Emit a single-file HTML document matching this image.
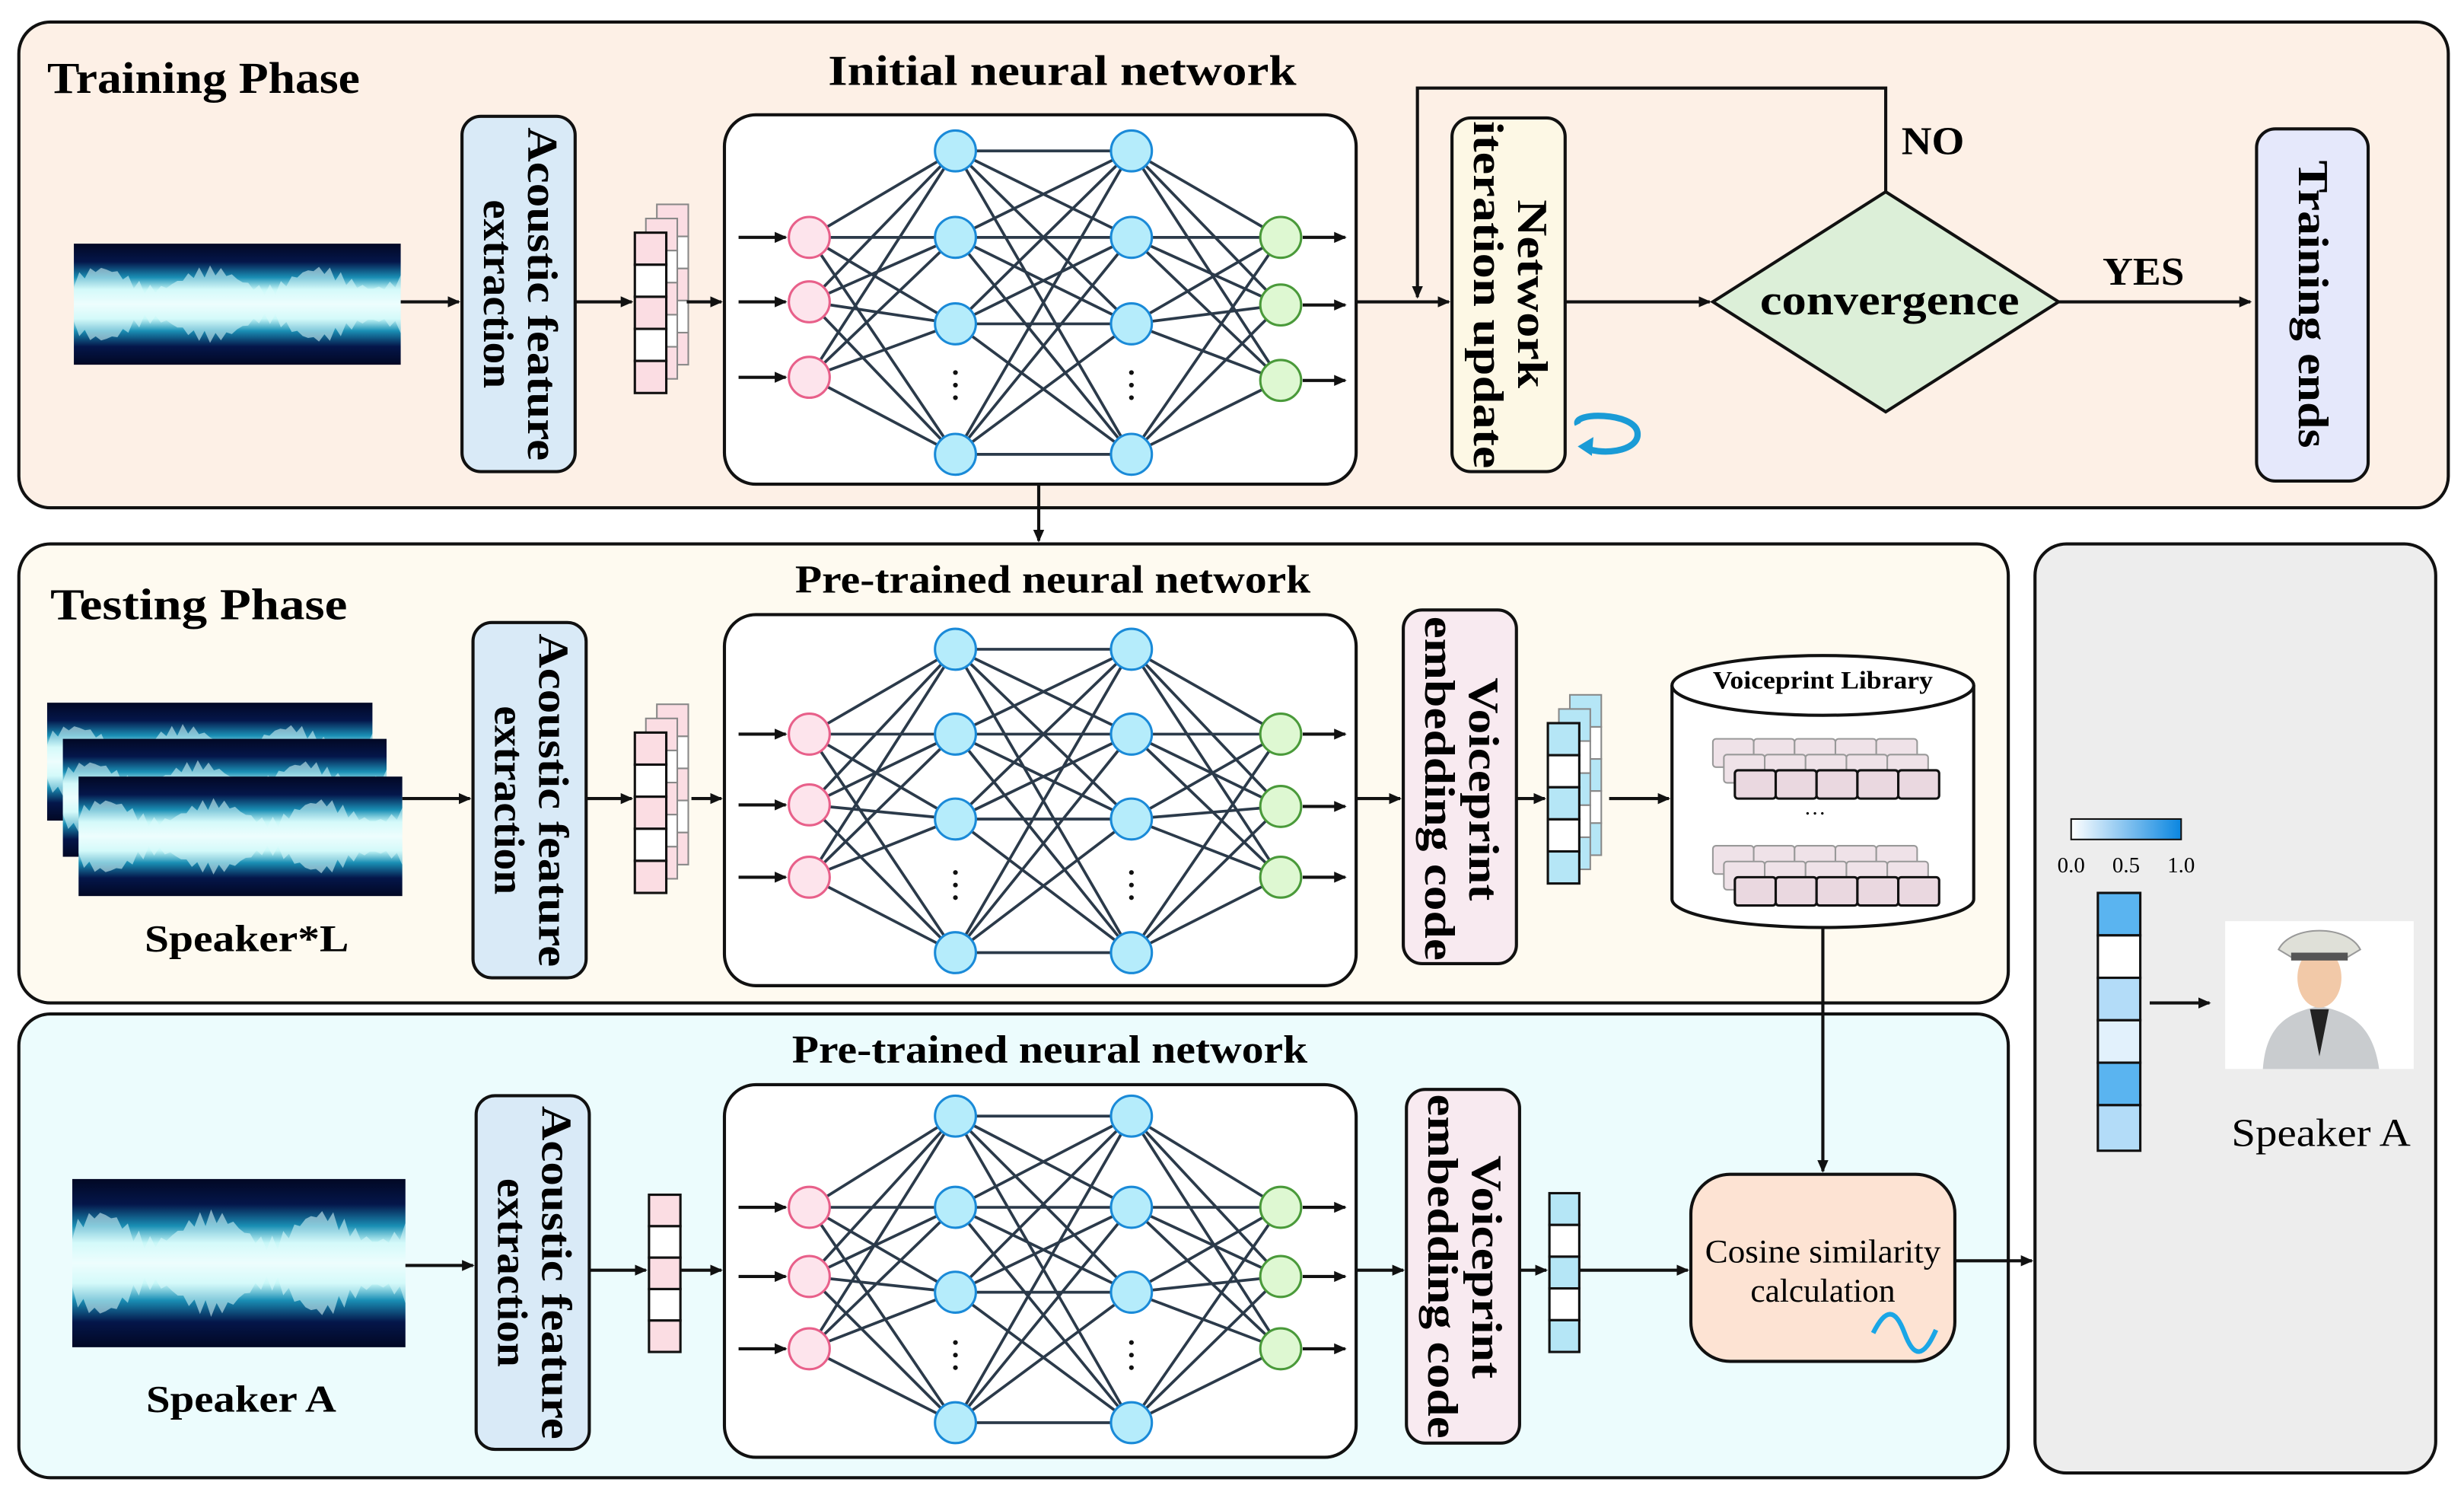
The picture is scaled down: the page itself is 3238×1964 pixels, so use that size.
<!DOCTYPE html>
<html><head><meta charset="utf-8"><style>
html,body{margin:0;padding:0;background:#fff}
svg{display:block}
text{font-family:"Liberation Serif",serif}
.b{font-weight:bold}
</style></head><body>
<svg id="s" width="3238" height="1964" viewBox="0 0 1568 951" preserveAspectRatio="none" xmlns="http://www.w3.org/2000/svg">
<defs>
<marker id="ar" markerWidth="8" markerHeight="8" refX="7" refY="4" orient="auto" markerUnits="userSpaceOnUse"><path d="M0,0.5 L8,4 L0,7.5 Z" fill="#111"/></marker>
<linearGradient id="wv" x1="0" y1="0" x2="0" y2="1">
<stop offset="0" stop-color="#020824"/><stop offset="0.15" stop-color="#04164a"/><stop offset="0.28" stop-color="#1a8fb5"/><stop offset="0.38" stop-color="#c8f8f8"/><stop offset="0.5" stop-color="#ffffff"/><stop offset="0.62" stop-color="#c8f8f8"/><stop offset="0.72" stop-color="#1a8fb5"/><stop offset="0.85" stop-color="#04164a"/><stop offset="1" stop-color="#020824"/></linearGradient>
<linearGradient id="cb" x1="0" y1="0" x2="1" y2="0"><stop offset="0" stop-color="#ffffff"/><stop offset="1" stop-color="#0a86e0"/></linearGradient>
</defs>
<rect x="12" y="14" width="1546" height="309" rx="20" fill="#fdf0e6" stroke="#111" stroke-width="2"/>
<rect x="12" y="346" width="1266" height="292" rx="20" fill="#fefaf0" stroke="#111" stroke-width="2"/>
<rect x="12" y="645" width="1266" height="295" rx="20" fill="#ecfcfd" stroke="#111" stroke-width="2"/>
<rect x="1295" y="346" width="255" height="591" rx="20" fill="#ededed" stroke="#111" stroke-width="2"/>
<text x="30" y="59" class="b" font-size="28" textLength="199" lengthAdjust="spacingAndGlyphs">Training Phase</text>
<text x="32" y="394" class="b" font-size="28" textLength="189" lengthAdjust="spacingAndGlyphs">Testing Phase</text>
<text x="527" y="54" class="b" font-size="27" textLength="298" lengthAdjust="spacingAndGlyphs">Initial neural network</text>
<text x="506" y="377" class="b" font-size="25" textLength="328" lengthAdjust="spacingAndGlyphs">Pre-trained neural network</text>
<text x="504" y="676" class="b" font-size="25" textLength="328" lengthAdjust="spacingAndGlyphs">Pre-trained neural network</text>
<g id="dyn"></g>
<rect x="924" y="75" width="72" height="225" rx="12" fill="#fdf8e5" stroke="#111" stroke-width="2"/>
<g transform="translate(960,187) rotate(90)"><text x="-60" y="-6" class="b" font-size="27" textLength="120" lengthAdjust="spacingAndGlyphs">Network</text><text x="-110" y="22" class="b" font-size="27" textLength="221" lengthAdjust="spacingAndGlyphs">iteration update</text></g>
<path d="M1004,270 C1000,262 1040,262 1042,275 C1044,288 1016,290 1008,284" fill="none" stroke="#1a9bd6" stroke-width="4"/>
<path d="M1004,284 L1014,278 L1013,290 Z" fill="#1a9bd6"/>
<polygon points="1090,192 1200,122 1310,192 1200,262" fill="#dcefd8" stroke="#111" stroke-width="2"/>
<text x="1120" y="200" class="b" font-size="27" textLength="165" lengthAdjust="spacingAndGlyphs">convergence</text>
<rect x="1436" y="82" width="71" height="224" rx="12" fill="#e5e8fb" stroke="#111" stroke-width="2"/>
<g transform="translate(1472,194) rotate(90)"><text x="-92" y="9" class="b" font-size="27" textLength="183" lengthAdjust="spacingAndGlyphs">Training ends</text></g>
<text x="1210" y="98" font-size="25" class="b" textLength="40" lengthAdjust="spacingAndGlyphs">NO</text>
<text x="1338" y="181" font-size="25" class="b" textLength="52" lengthAdjust="spacingAndGlyphs">YES</text>
<g stroke="#111" stroke-width="2" fill="none">
<path d="M1200,122 V56 H902 V189" marker-end="url(#ar)"/>
<line x1="863" y1="192" x2="922" y2="192" marker-end="url(#ar)"/>
<line x1="996" y1="192" x2="1088" y2="192" marker-end="url(#ar)"/>
<line x1="1310" y1="192" x2="1432" y2="192" marker-end="url(#ar)"/>
<line x1="661" y1="308" x2="661" y2="344" marker-end="url(#ar)"/>
</g>
<rect x="893" y="388" width="72" height="225" rx="12" fill="#f8eaf0" stroke="#111" stroke-width="2"/>
<g transform="translate(929,502) rotate(90)"><text x="-71" y="-6" class="b" font-size="27" textLength="142" lengthAdjust="spacingAndGlyphs">Voiceprint</text><text x="-110" y="22" class="b" font-size="27" textLength="219" lengthAdjust="spacingAndGlyphs">embedding code</text></g>
<rect x="895" y="693" width="72" height="225" rx="12" fill="#f8eaf0" stroke="#111" stroke-width="2"/>
<g transform="translate(931,806) rotate(90)"><text x="-71" y="-6" class="b" font-size="27" textLength="142" lengthAdjust="spacingAndGlyphs">Voiceprint</text><text x="-110" y="22" class="b" font-size="27" textLength="219" lengthAdjust="spacingAndGlyphs">embedding code</text></g>
<path d="M1064,436 V572 A96,18 0 0 0 1256,572 V436" fill="#fff" stroke="#111" stroke-width="2"/>
<ellipse cx="1160" cy="436" rx="96" ry="19" fill="#fff" stroke="#111" stroke-width="2"/>
<text x="1090" y="438" class="b" font-size="16" textLength="140" lengthAdjust="spacingAndGlyphs">Voiceprint Library</text>
<g id="lib"></g>
<text x="1155" y="518" font-size="14" text-anchor="middle">…</text>
<rect x="1076" y="747" width="168" height="119" rx="25" fill="#fde3d3" stroke="#111" stroke-width="2"/>
<text x="1085" y="803" font-size="21" textLength="150" lengthAdjust="spacingAndGlyphs">Cosine similarity</text>
<text x="1160" y="828" font-size="21" text-anchor="middle">calculation</text>
<path d="M1192,848 C1200,832 1206,832 1212,848 C1218,864 1224,864 1232,846" fill="none" stroke="#1aa6e6" stroke-width="3"/>
<g stroke="#111" stroke-width="2" fill="none">
<line x1="1024" y1="508" x2="1062" y2="508" marker-end="url(#ar)"/>
<line x1="1160" y1="590" x2="1160" y2="745" marker-end="url(#ar)"/>
<line x1="1005" y1="808" x2="1074" y2="808" marker-end="url(#ar)"/>
<line x1="1244" y1="802" x2="1293" y2="802" marker-end="url(#ar)"/>
<line x1="1368" y1="638" x2="1406" y2="638" marker-end="url(#ar)"/>
</g>
<rect x="1318" y="521" width="70" height="13" fill="url(#cb)" stroke="#111" stroke-width="1"/>
<text x="1318" y="555" font-size="14" text-anchor="middle">0.0</text>
<text x="1353" y="555" font-size="14" text-anchor="middle">0.5</text>
<text x="1388" y="555" font-size="14" text-anchor="middle">1.0</text>
<g stroke="#111" stroke-width="1.5">
<rect x="1335" y="568" width="27" height="27" fill="#5ab4f0"/>
<rect x="1335" y="595" width="27" height="27" fill="#fff"/>
<rect x="1335" y="622" width="27" height="27" fill="#b3dcf8"/>
<rect x="1335" y="649" width="27" height="27" fill="#e2f1fc"/>
<rect x="1335" y="676" width="27" height="27" fill="#5ab4f0"/>
<rect x="1335" y="703" width="27" height="29" fill="#b3dcf8"/>
</g>
<rect x="1416" y="586" width="120" height="94" fill="#fff"/>
<path d="M1440,680 C1442,652 1456,644 1476,640 C1496,644 1510,652 1514,680 Z" fill="#c9cccf"/>
<path d="M1470,642 L1476,672 L1482,642 Z" fill="#222"/>
<ellipse cx="1476" cy="622" rx="14" ry="19" fill="#f2c9a8"/>
<path d="M1450,604 C1458,588 1494,588 1502,604 L1492,610 L1460,610 Z" fill="#dfe0d8" stroke="#999" stroke-width="1"/>
<rect x="1458" y="606" width="36" height="5" fill="#555"/>
<text x="1420" y="729" font-size="25" textLength="114" lengthAdjust="spacingAndGlyphs">Speaker A</text>
<text x="92" y="605" class="b" font-size="24" textLength="130" lengthAdjust="spacingAndGlyphs">Speaker*L</text>
<text x="93" y="898" class="b" font-size="24" textLength="121" lengthAdjust="spacingAndGlyphs">Speaker A</text>
</svg>
<script>
var NS="http://www.w3.org/2000/svg",G=document.getElementById("dyn");
function el(t,a,p){var e=document.createElementNS(NS,t);for(var k in a)e.setAttribute(k,a[k]);(p||G).appendChild(e);return e;}
function wave(x,y,w,h){el("rect",{x:x,y:y,width:w,height:h,fill:"url(#wv)"});
 var d="";for(var i=0;i<=60;i++){var xx=x+i*w/60;var a=h*(0.14+0.1*Math.abs(Math.sin(i*1.7))+0.08*Math.sin(i*0.1*Math.PI));d+=(i?"L":"M")+xx+","+(y+h/2-a);}
 for(var i=60;i>=0;i--){var xx=x+i*w/60;var a=h*(0.14+0.1*Math.abs(Math.sin(i*1.7))+0.08*Math.sin(i*0.1*Math.PI));d+="L"+xx+","+(y+h/2+a);}
 el("path",{d:d+"Z",fill:"#dffcfc",opacity:"0.55"});}
function vbox(x,y,w,h,fill,l1,l2){el("rect",{x:x,y:y,width:w,height:h,rx:12,fill:fill,stroke:"#111","stroke-width":2});
 var g=el("g",{transform:"translate("+(x+w/2)+","+(y+h/2)+") rotate(90)"});
 var t=el("text",{x:-106,y:-6,"class":"b","font-size":27,textLength:212,lengthAdjust:"spacingAndGlyphs"},g);t.textContent=l1;
 t=el("text",{x:-60,y:22,"class":"b","font-size":27,textLength:120,lengthAdjust:"spacingAndGlyphs"},g);t.textContent=l2;}
function arrow(x1,y1,x2,y2){el("line",{x1:x1,y1:y1,x2:x2,y2:y2,stroke:"#111","stroke-width":2,"marker-end":"url(#ar)"});}
function stack(x,y,w,h,n,cols,layers){for(var L=layers-1;L>=0;L--){var ox=x+L*7,oy=y-L*9;var ch=h/n;
 for(var i=0;i<n;i++){el("rect",{x:ox,y:oy+i*ch,width:w,height:ch,fill:L? (i%2?"#fff":cols[1]):(i%2?"#fff":cols[0]),stroke:L?"#888":"#111","stroke-width":L?1:1.5});}}}
function nn(bx,by,bw,bh,inY,hY,dotY,outY){el("rect",{x:bx,y:by,width:bw,height:bh,rx:20,fill:"#fff",stroke:"#111","stroke-width":2});
 var x0=515,x1=608,x2=720,x3=815;var L=[[x0,inY],[x1,hY],[x2,hY],[x3,outY]];
 for(var l=0;l<3;l++)for(var a of L[l][1])for(var b of L[l+1][1])el("line",{x1:L[l][0],y1:a,x2:L[l+1][0],y2:b,stroke:"#2b3a4a","stroke-width":1.8});
 for(var y of inY){el("ellipse",{cx:x0,cy:y,rx:13,ry:13,fill:"#fde4ec",stroke:"#e8608a","stroke-width":1.5});arrow(470,y,500,y);}
 for(var xx of [x1,x2])for(var y of hY)el("ellipse",{cx:xx,cy:y,rx:13,ry:13,fill:"#b5ecfb",stroke:"#1a8ad8","stroke-width":1.5});
 for(var y of outY){el("ellipse",{cx:x3,cy:y,rx:13,ry:13,fill:"#def8d2",stroke:"#4a9a3a","stroke-width":1.5});arrow(829,y,856,y);}
 for(var xx of [x1,x2])for(var k=-1;k<=1;k++)el("circle",{cx:xx,cy:dotY+k*8,r:1.5,fill:"#111"});}
wave(47,155,208,77);arrow(255,192,292,192);
vbox(294,74,72,226,"#d9eaf7","Acoustic feature","extraction");
arrow(366,192,402,192);stack(404,148,20,102,5,["#fbdde3","#fbdde3"],3);arrow(437,192,459,192);
nn(461,73,402,235,[151,192,240],[96,151,206,289],245,[151,194,242]);
wave(30,447,207,75);wave(40,470,206,75);wave(50,494,206,76);arrow(256,508,299,508);
vbox(301,396,72,226,"#d9eaf7","Acoustic feature","extraction");
arrow(373,508,402,508);stack(404,466,20,102,5,["#fbdde3","#fbdde3"],3);arrow(440,508,459,508);
nn(461,391,402,236,[467,512,558],[413,467,521,606],563,[467,513,558]);
arrow(863,508,891,508);arrow(965,508,983,508);stack(985,460,20,102,5,["#b5e6f6","#b5e6f6"],3);
wave(46,750,212,107);arrow(258,805,301,805);
vbox(303,697,72,225,"#d9eaf7","Acoustic feature","extraction");
arrow(375,808,411,808);stack(413,760,20,100,5,["#fbdde3"],1);arrow(433,808,459,808);
nn(461,690,402,237,[768,812,858],[710,768,822,905],862,[768,812,858]);
arrow(863,808,893,808);arrow(967,808,984,808);stack(986,759,19,101,5,["#b5e6f6"],1);
var LB=document.getElementById("lib");
function lib(y){for(var r=0;r<3;r++){var ox=1090+r*7,oy=y+r*10;for(var i=0;i<5;i++)el("rect",{x:ox+i*26,y:oy,width:26,height:18,rx:2,fill:r==2?"#ead8e0":"#efe2e8",stroke:r==2?"#111":"#999","stroke-width":r==2?1.5:1},LB);}}
lib(470);lib(538);
</script>
</body></html>
